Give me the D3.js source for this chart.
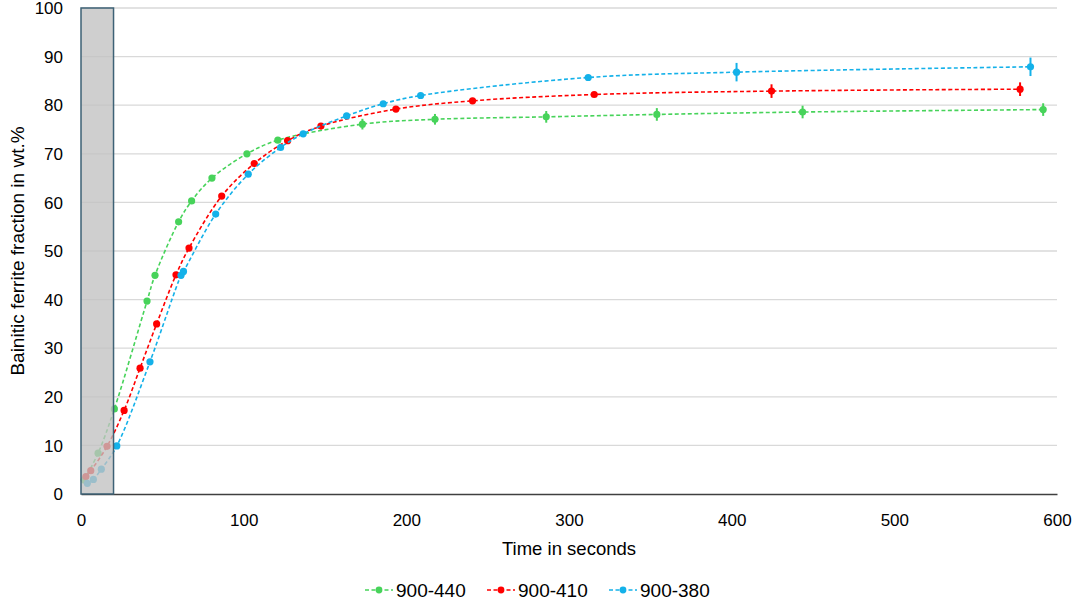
<!DOCTYPE html>
<html>
<head>
<meta charset="utf-8">
<script src="https://cdn.jsdelivr.net/npm/d3@7"></script>
<style>
    body { margin: 0; background: #fff; }
    text { font-family: "Liberation Sans", Arial, sans-serif; fill: #000; }
</style>
</head>
<body>
<div id="chart"></div>
<script>
// Data
const SERIES_NAMES = ["900-440", "900-410", "900-380"];
const SERIES_COLORS = ["#47d35a", "#ff0000", "#14b1e9"];

const TIME_440 = [2, 10.5, 20.5, 40.6, 45.5, 60, 68, 80.5, 102, 121, 173, 217.6, 286, 354, 443.6, 591.5];
const FRAC_440 = [2.9, 8.4, 17.5, 39.7, 45.0, 56.0, 60.3, 65.0, 70.0, 72.8, 76.1, 77.1, 77.6, 78.1, 78.6, 79.1];
const ERR_440  = [0, 0, 0, 0, 0, 0, 0, 0, 0, 0, 1.1, 1.1, 1.2, 1.3, 1.3, 1.3];

const TIME_410 = [3, 6, 16, 26.5, 36.3, 46.5, 58.4, 66.4, 86.5, 106.5, 127, 147.5, 193.6, 240.7, 315.5, 424.5, 577.3];
const FRAC_410 = [3.6, 4.8, 9.8, 17.2, 25.9, 35.0, 45.1, 50.6, 61.3, 68.0, 72.7, 75.7, 79.2, 80.9, 82.2, 82.9, 83.3];
const ERR_410  = [0, 0, 0, 0, 0, 0, 0, 0, 0, 0, 0, 0, 0, 0, 0, 1.4, 1.4];

const TIME_380 = [3.9, 7.6, 12.5, 22, 42.4, 61.5, 63, 82.8, 102.8, 122.7, 136.6, 163.3, 185.8, 208.8, 311.8, 403, 583.7];
const FRAC_380 = [2.2, 3.0, 5.1, 9.9, 27.2, 45.0, 45.8, 57.6, 65.8, 71.3, 74.1, 77.8, 80.3, 82.0, 85.7, 86.8, 87.9];
const ERR_380  = [0, 0, 0, 0, 0, 0, 0, 0, 0, 0, 0, 0, 0, 0, 0, 1.9, 1.9];

const X_TICKS = [0, 100, 200, 300, 400, 500, 600];
const Y_TICKS = [0, 10, 20, 30, 40, 50, 60, 70, 80, 90, 100];
const SHADED_END = 20;   // grey band, seconds

const width = 1079;
const height = 607;
const margin = ({top: 8, right: 22, bottom: 113, left: 81});

const zip = (t, v, e) => t.map((d, i) => ({t: d, v: v[i], e: e[i]}));
const SERIES = [
    zip(TIME_440, FRAC_440, ERR_440),
    zip(TIME_410, FRAC_410, ERR_410),
    zip(TIME_380, FRAC_380, ERR_380)
];

let svg = d3.select("#chart")
    .append("svg")
    .attr("width", width)
    .attr("height", height);

const xScale = d3.scaleLinear()
    .domain([0, 600])
    .range([margin.left, width - margin.right]);

const yScale = d3.scaleLinear()
    .domain([0, 100])
    .range([height - margin.bottom, margin.top]);

// Gridlines
svg.append("g")
    .selectAll("line")
    .data(Y_TICKS.filter(d => d > 0))
  .enter().append("line")
    .attr("x1", xScale(0))
    .attr("x2", xScale(600))
    .attr("y1", d => yScale(d))
    .attr("y2", d => yScale(d))
    .attr("stroke", "#d9d9d9")
    .attr("stroke-width", 1.3);

// y tick labels
svg.append("g")
    .selectAll("text")
    .data(Y_TICKS)
  .enter().append("text")
    .attr("x", 63)
    .attr("y", d => yScale(d))
    .attr("dy", "0.36em")
    .attr("text-anchor", "end")
    .attr("font-size", 17)
    .text(d => d);

// x axis
const xAxis = svg.append("g")
    .attr("transform", `translate(0, ${yScale(0)})`)
    .call(d3.axisBottom(xScale).tickValues(X_TICKS).tickSize(0).tickPadding(20));
xAxis.select(".domain").attr("stroke", "#404040").attr("stroke-width", 1.5);
xAxis.selectAll("text")
    .attr("font-size", 17)
    .attr("font-family", "Liberation Sans, Arial, sans-serif")
    .attr("fill", "#000");

// Axis titles
svg.append("text")
    .attr("x", (xScale(0) + xScale(600)) / 2)
    .attr("y", 555)
    .attr("text-anchor", "middle")
    .attr("font-size", 18.5)
    .text("Time in seconds");

svg.append("text")
    .attr("transform", `translate(24, ${(yScale(0) + yScale(100)) / 2}) rotate(-90)`)
    .attr("text-anchor", "middle")
    .attr("font-size", 19)
    .text("Bainitic ferrite fraction in wt.%");

// Lines, error bars, dots
const lineGenerator = d3.line()
    .curve(d3.curveCatmullRom.alpha(0.5))
    .x(d => xScale(d.t))
    .y(d => yScale(d.v));

SERIES.forEach((data, i) => {
    const color = SERIES_COLORS[i];
    const g = svg.append("g").attr("class", "series");

    g.append("path")
        .datum(data)
        .attr("fill", "none")
        .attr("stroke", color)
        .attr("stroke-width", 1.6)
        .attr("stroke-dasharray", "4,2.5")
        .attr("d", lineGenerator);

    g.selectAll(".err")
        .data(data.filter(d => d.e > 0))
      .enter().append("line")
        .attr("x1", d => xScale(d.t))
        .attr("x2", d => xScale(d.t))
        .attr("y1", d => yScale(d.v - d.e))
        .attr("y2", d => yScale(d.v + d.e))
        .attr("stroke", color)
        .attr("stroke-width", 2);

    g.selectAll(".dot")
        .data(data)
      .enter().append("circle")
        .attr("cx", d => xScale(d.t))
        .attr("cy", d => yScale(d.v))
        .attr("r", 3.6)
        .attr("fill", color);
});

// Grey band over the first seconds
svg.append("rect")
    .attr("x", xScale(0))
    .attr("y", yScale(100))
    .attr("width", xScale(SHADED_END) - xScale(0))
    .attr("height", yScale(0) - yScale(100))
    .attr("fill", "#c2c2c2")
    .attr("fill-opacity", 0.78)
    .attr("stroke", "#3e6276")
    .attr("stroke-width", 1.5);

// Legend
const legendX = [365, 487, 609];
const legend = svg.append("g");
SERIES_NAMES.forEach((name, i) => {
    const x0 = legendX[i];
    const y0 = 590;
    legend.append("line")
        .attr("x1", x0).attr("x2", x0 + 28)
        .attr("y1", y0).attr("y2", y0)
        .attr("stroke", SERIES_COLORS[i])
        .attr("stroke-width", 1.6)
        .attr("stroke-dasharray", "4,2.5");
    legend.append("circle")
        .attr("cx", x0 + 14).attr("cy", y0)
        .attr("r", 3.4)
        .attr("fill", SERIES_COLORS[i]);
    legend.append("text")
        .attr("x", x0 + 31)
        .attr("y", y0)
        .attr("dy", "0.36em")
        .attr("font-size", 19)
        .text(name);
});
</script>
</body>
</html>
